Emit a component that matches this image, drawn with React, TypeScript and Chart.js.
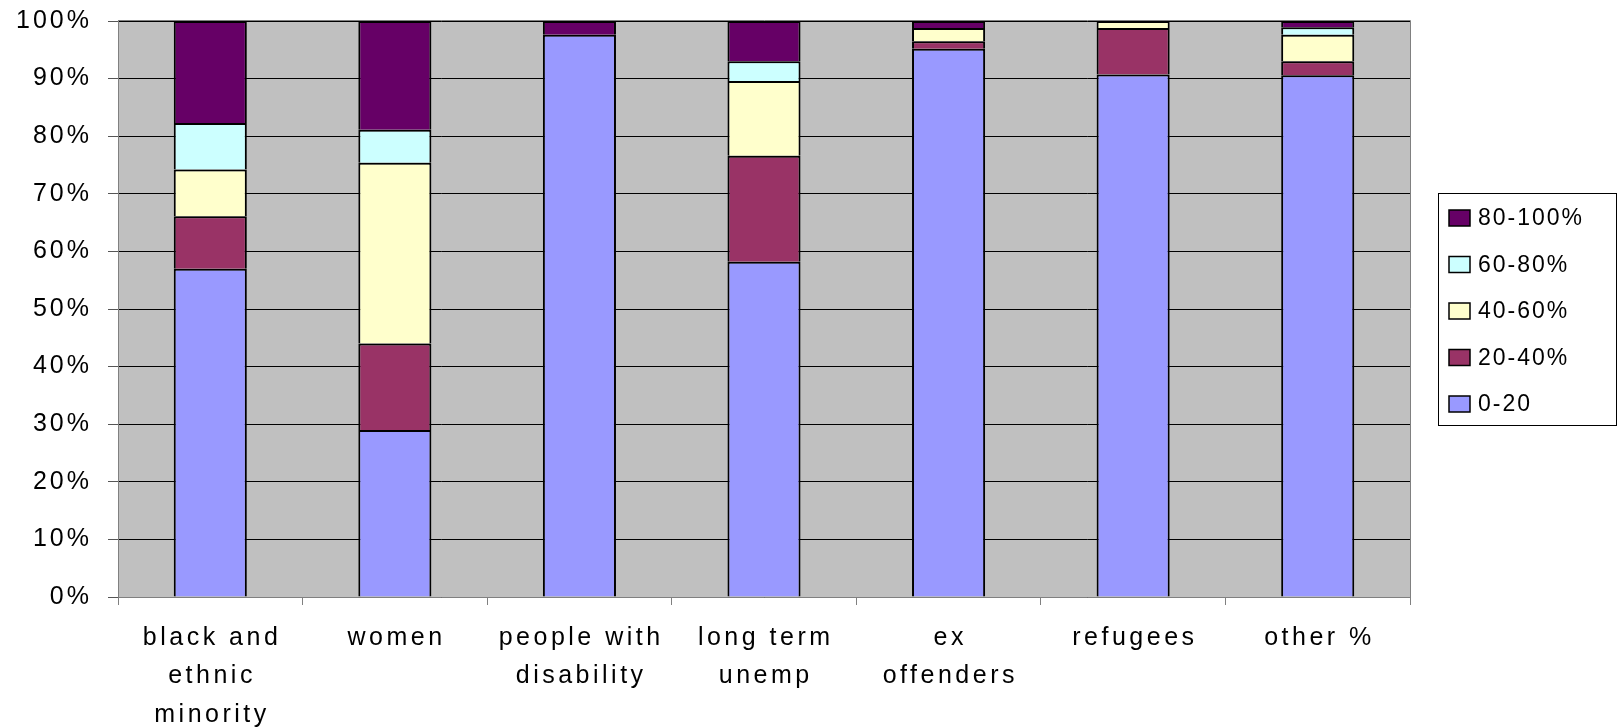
import React, { useEffect, useRef } from "react";
import { Chart, registerables } from "chart.js";

Chart.register(...registerables);

const categories: (string | string[])[] = [
  ["black and", "ethnic", "minority"],
  "women",
  ["people with", "disability"],
  ["long term", "unemp"],
  ["ex", "offenders"],
  "refugees",
  "other %",
];

const seriesLabels = ["0-20", "20-40%", "40-60%", "60-80%", "80-100%"];
const seriesColors = ["#9999FF", "#993366", "#FFFFCC", "#CCFFFF", "#660066"];

const band0to20 = [57.0, 29.0, 97.6, 58.2, 95.2, 90.7, 90.6];
const band20to40 = [9.1, 15.0, 0, 18.4, 1.3, 8.1, 2.4];
const band40to60 = [8.1, 31.4, 0, 13.0, 2.3, 1.2, 4.6];
const band60to80 = [8.1, 5.7, 0, 3.4, 0, 0, 1.3];
const band80to100 = [17.7, 18.9, 2.4, 7.0, 1.2, 0, 1.1];

const yTickValues = [0, 10, 20, 30, 40, 50, 60, 70, 80, 90, 100];

const FONT = "'Liberation Sans', Arial, sans-serif";

export default function App() {
  const ref = useRef<HTMLCanvasElement | null>(null);

  useEffect(() => {
    const canvas = ref.current;
    if (!canvas) return;

    // letter-spacing per text (styling only)
    const spacing = new Map<string, number>();
    yTickValues.forEach((v) => spacing.set(v + "%", 3));
    categories.forEach((c) => {
      (Array.isArray(c) ? c : [c]).forEach((l) => spacing.set(l, 3.5));
    });

    const values = [band0to20, band20to40, band40to60, band60to80, band80to100];

    const textPlugin = {
      id: "textSpacing",
      beforeDraw(chart: any) {
        const ctx = chart.ctx as any;
        if (ctx.__origFill) return;
        const orig = ctx.fillText;
        ctx.__origFill = orig;
        ctx.fillText = function (t: string, x: number, y: number, mw?: number) {
          const s = spacing.get(t);
          if (s !== undefined) {
            this.letterSpacing = s + "px";
            let dx = 0;
            if (this.textAlign === "center") dx = s / 2;
            else if (this.textAlign === "right") dx = s;
            return mw === undefined
              ? orig.call(this, t, x + dx, y)
              : orig.call(this, t, x + dx, y, mw);
          }
          return mw === undefined ? orig.call(this, t, x, y) : orig.call(this, t, x, y, mw);
        };
      },
      afterDraw(chart: any) {
        const ctx = chart.ctx as any;
        if (ctx.__origFill) {
          ctx.fillText = ctx.__origFill;
          delete ctx.__origFill;
        }
      },
    };

    const bgPlugin = {
      id: "plotBg",
      beforeDraw(chart: any) {
        const { ctx, chartArea } = chart;
        const { left, top, right, bottom } = chartArea;
        ctx.save();
        ctx.fillStyle = "#C0C0C0";
        ctx.fillRect(left, top, right - left, bottom - top);
        ctx.strokeStyle = "#808080";
        ctx.lineWidth = 1;
        ctx.beginPath();
        ctx.moveTo(left, Math.round(top) - 0.5);
        ctx.lineTo(Math.round(right) + 0.5, Math.round(top) - 0.5);
        ctx.lineTo(Math.round(right) + 0.5, bottom);
        ctx.stroke();
        ctx.restore();
      },
    };

    const legendPlugin = {
      id: "boxLegend",
      afterDraw(chart: any) {
        const { ctx, chartArea } = chart;
        const boxW = 178;
        const boxH = 232;
        const left = chartArea.right + 28;
        const top = (chartArea.top + chartArea.bottom) / 2 - boxH / 2;
        ctx.save();
        ctx.fillStyle = "#FFFFFF";
        ctx.fillRect(left, top, boxW, boxH);
        ctx.strokeStyle = "#000000";
        ctx.lineWidth = 1;
        ctx.strokeRect(Math.round(left) + 0.5, Math.round(top) + 0.5, boxW, boxH);
        const ds = chart.data.datasets;
        const n = ds.length;
        for (let k = 0; k < n; k++) {
          const d = ds[n - 1 - k];
          const cy = top + 25 + k * 46.5;
          ctx.fillStyle = d.backgroundColor;
          ctx.fillRect(left + 11, cy - 8, 21, 16);
          ctx.strokeStyle = "#000";
          ctx.lineWidth = 1.5;
          ctx.strokeRect(left + 11, cy - 8, 21, 16);
          ctx.fillStyle = "#000";
          ctx.font = `23px ${FONT}`;
          ctx.textAlign = "left";
          ctx.textBaseline = "middle";
          (ctx as any).letterSpacing = "2px";
          const fill = ctx.__origFill || ctx.fillText;
          fill.call(ctx, d.label, left + 40, cy + 1);
        }
        ctx.restore();
      },
    };

    const chart = new Chart(canvas, {
      type: "bar",
      data: {
        labels: categories as any,
        datasets: seriesLabels.map((label, i) => ({
          label,
          data: values[i],
          backgroundColor: seriesColors[i],
          borderColor: "#000000",
          borderWidth: 2,
          barPercentage: 0.396,
          categoryPercentage: 1,
        })),
      },
      options: {
        responsive: false,
        animation: false,
        devicePixelRatio: 1,
        layout: { padding: { top: 21, right: 207, left: 0, bottom: 0 } },
        plugins: {
          legend: { display: false },
          tooltip: { enabled: false },
          title: { display: false },
        },
        scales: {
          x: {
            stacked: true,
            offset: true,
            grid: {
              display: true,
              drawOnChartArea: false,
              drawTicks: true,
              tickLength: 8,
              color: "#808080",
              offset: true,
            },
            border: { display: true, color: "#808080", width: 1 },
            ticks: {
              color: "#000000",
              padding: 14,
              maxRotation: 0,
              autoSkip: false,
              font: { family: FONT, size: 25, lineHeight: 1.536 },
            },
            afterFit: (scale: any) => {
              scale.height = 131;
            },
          },
          y: {
            stacked: true,
            min: 0,
            max: 100,
            grid: {
              color: "#000000",
              lineWidth: 1,
              drawTicks: true,
              tickLength: 10,
              tickColor: "#555555",
            },
            border: { display: true, color: "#808080", width: 1 },
            afterBuildTicks: (scale: any) => {
              scale.ticks = yTickValues.map((v) => ({ value: v }));
            },
            ticks: {
              color: "#000000",
              padding: 19,
              font: { family: FONT, size: 25 },
              callback: (v: any) => v + "%",
            },
            afterFit: (scale: any) => {
              scale.width = 118;
              scale.paddingTop = 0;
              scale.paddingBottom = 0;
            },
          },
        },
      },
      plugins: [bgPlugin, textPlugin, legendPlugin],
    });

    return () => chart.destroy();
  }, []);

  return (
    <div style={{ position: "absolute", left: 0, top: 0, width: 1617, height: 728, background: "#fff" }}>
      <canvas ref={ref} width={1617} height={728} style={{ display: "block" }} />
    </div>
  );
}
